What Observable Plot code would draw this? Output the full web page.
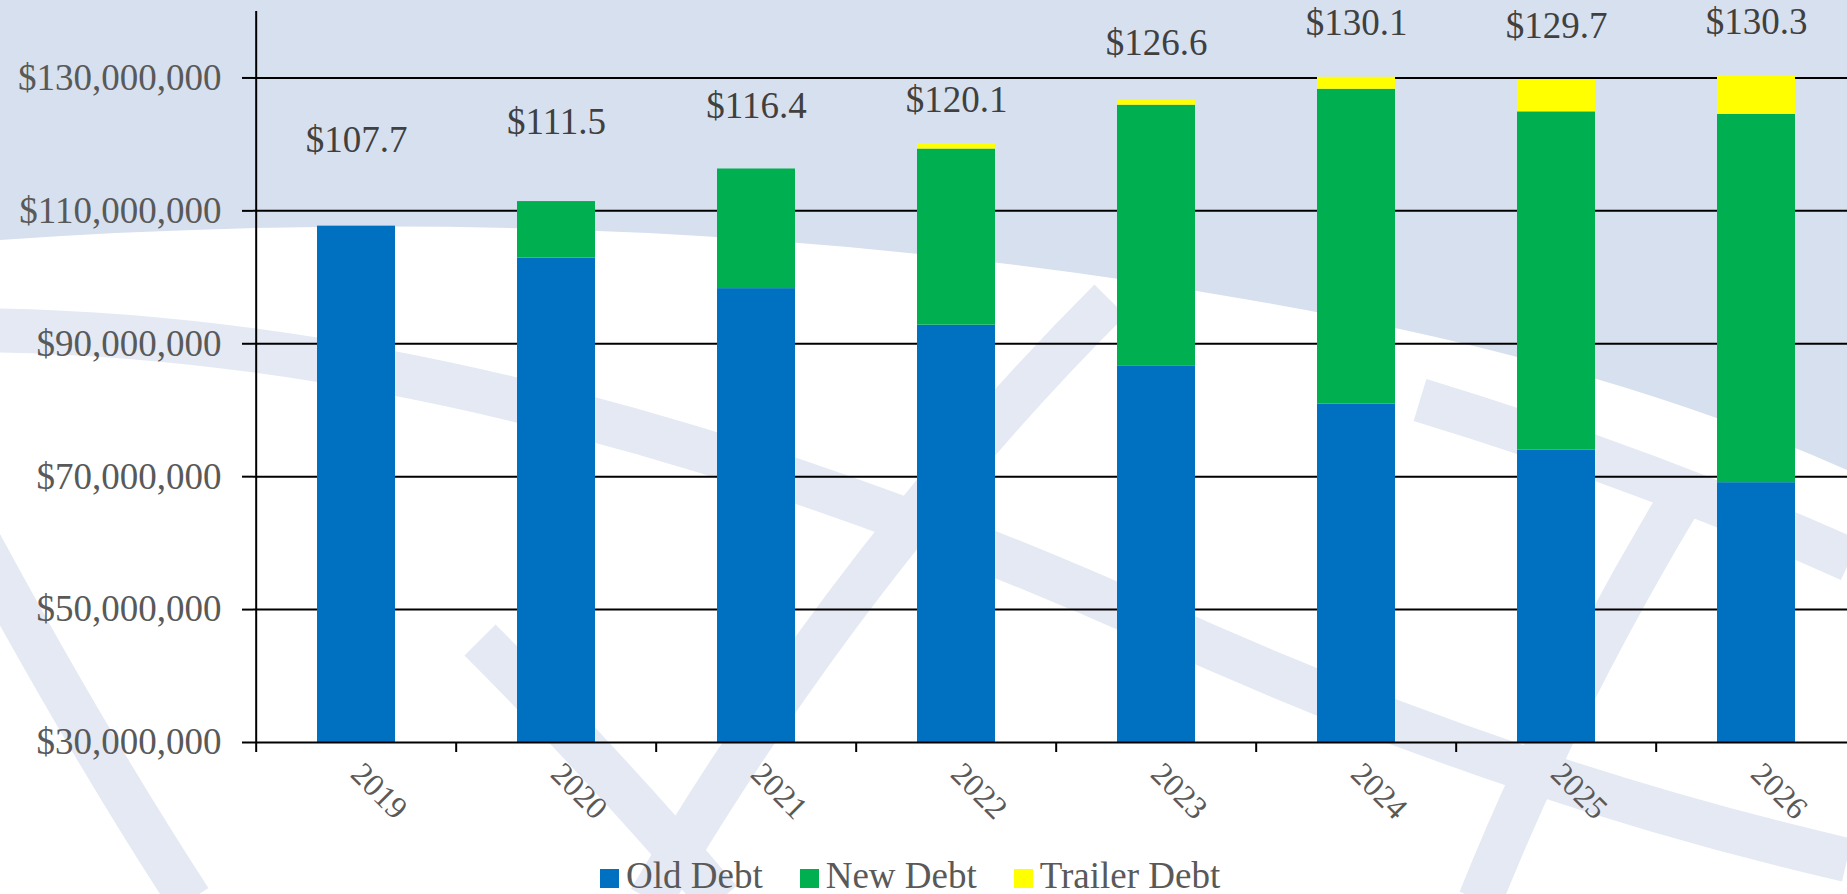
<!DOCTYPE html>
<html>
<head>
<meta charset="utf-8">
<script src="https://cdn.jsdelivr.net/npm/d3@7"></script>
<script src="https://cdn.jsdelivr.net/npm/@observablehq/plot@0.6"></script>
<style>
  html, body { margin: 0; padding: 0; }
  body { width: 1847px; height: 894px; position: relative; overflow: hidden; background: #ffffff; font-family: "Liberation Serif", "Times New Roman", serif; }
  #bg { position: absolute; left: 0; top: 0; z-index: 0; }
  #chart { position: absolute; left: 0; top: 0; z-index: 1; }
  #legend { position: absolute; left: 600px; top: 857px; z-index: 2; font-family: "Liberation Serif", "Times New Roman", serif; font-size: 37px; line-height: 37px; color: #595959; white-space: nowrap; }
  #legend .item { display: inline-block; margin-right: 37px; }
  #legend .sw { display: inline-block; width: 19px; height: 19px; margin-right: 7px; vertical-align: baseline; }
</style>
</head>
<body>
<svg id="bg" width="1847" height="894" xmlns="http://www.w3.org/2000/svg">
  <rect width="1847" height="894" fill="#d7e0ee"/>
  <path d="M0,240 Q650,195 1250,300 Q1600,360 1847,470 L1847,894 L0,894 Z" fill="#ffffff"/>
  <g fill="none" stroke="#e4e9f3" stroke-width="44">
    <path d="M-40,330 Q500,330 1150,620 Q1500,780 1847,860"/>
    <path d="M-80,430 Q60,700 190,900"/>
    <path d="M650,900 Q850,560 1110,300"/>
    <path d="M1680,500 Q1560,700 1480,900"/>
    <path d="M480,640 Q600,760 720,900"/>
    <path d="M1850,560 Q1650,470 1420,400"/>
  </g>
</svg>
<div id="chart"></div>
<div id="legend"></div>
<script>
// ---- data (values in millions of dollars) ----
const years = ["2019", "2020", "2021", "2022", "2023", "2024", "2025", "2026"];
const oldDebt = [107.7, 102.9, 98.3, 92.8, 86.6, 80.9, 74.0, 69.1];
const newDebt = [0, 8.5, 18.0, 26.5, 39.3, 47.4, 50.9, 55.4];
const trailerDebt = [0, 0, 0, 0.8, 0.7, 1.8, 4.8, 5.8];
const totalLabels = ["$107.7", "$111.5", "$116.4", "$120.1", "$126.6", "$130.1", "$129.7", "$130.3"];
const labelPos = [120.6, 123.4, 125.8, 126.6, 135.3, 138.3, 137.8, 138.4];
const seriesNames = ["Old Debt", "New Debt", "Trailer Debt"];
const seriesColors = ["#0070C0", "#00B050", "#FFFF00"];
const yTickValues = [30, 50, 70, 90, 110, 130];
const gridValues = [50, 70, 90, 110, 130];
const yDomain = [30, 140];

// ---- build tables ----
const seriesValues = [oldDebt, newDebt, trailerDebt];
const table = [];
seriesNames.forEach((s, si) => {
  years.forEach((yr, i) => table.push({year: yr, series: s, value: seriesValues[si][i] * 1e6}));
});
const labels = years.map((yr, i) => ({year: yr, y: labelPos[i] * 1e6, text: totalLabels[i]}));

const W = 1847, H = 850;
const mL = 253, mT = 11, mB = H - 742;
const xRange = [mL, 1858];
const step = (xRange[1] - xRange[0]) / years.length;
const font = "Liberation Serif, Times New Roman, serif";

const chart = Plot.plot({
  width: W,
  height: H,
  marginLeft: mL,
  marginRight: 0,
  marginTop: mT,
  marginBottom: mB,
  style: {background: "transparent", fontFamily: font, overflow: "visible"},
  x: {domain: years, range: xRange, paddingInner: 0.61, paddingOuter: 0.305, label: null},
  y: {domain: yDomain.map(v => v * 1e6), label: null},
  color: {domain: seriesNames, range: seriesColors},
  marks: [
    Plot.gridY(gridValues.map(v => v * 1e6), {stroke: "black", strokeOpacity: 1, strokeWidth: 2}),
    Plot.barY(table, {x: "year", y: "value", fill: "series", clip: true, order: seriesNames}),
    Plot.ruleY([yDomain[0] * 1e6], {stroke: "black", strokeWidth: 2}),
    Plot.ruleX(years.slice(0, 1), {x: d => d, dx: -step / 2, y1: yDomain[0] * 1e6, y2: yDomain[1] * 1e6, stroke: "black", strokeWidth: 2}),
    Plot.axisY({
      ticks: yTickValues.map(v => v * 1e6),
      tickFormat: d => "$" + d3.format(",")(d),
      tickSize: 11, tickPadding: 21,
      stroke: "black", strokeWidth: 2,
      color: "#595959", fontSize: 37, fontFamily: font, label: null
    }),
    Plot.axisX({tickFormat: null, tickSize: 10, dx: -step / 2, stroke: "black", strokeWidth: 2, label: null}),
    Plot.axisX({tickSize: 0, tickPadding: 26, tickRotate: 45, color: "#595959", fontSize: 32, fontFamily: font, label: null}),
    Plot.text(labels, {x: "year", y: "y", text: "text", fontSize: 37, fontFamily: font, fill: "#404040"})
  ]
});
document.getElementById("chart").appendChild(chart);

// ---- legend ----
const legend = document.getElementById("legend");
seriesNames.forEach((s, i) => {
  const item = document.createElement("span");
  item.className = "item";
  const sw = document.createElement("span");
  sw.className = "sw";
  sw.style.background = seriesColors[i];
  item.appendChild(sw);
  item.appendChild(document.createTextNode(s));
  legend.appendChild(item);
});
</script>
</body>
</html>
